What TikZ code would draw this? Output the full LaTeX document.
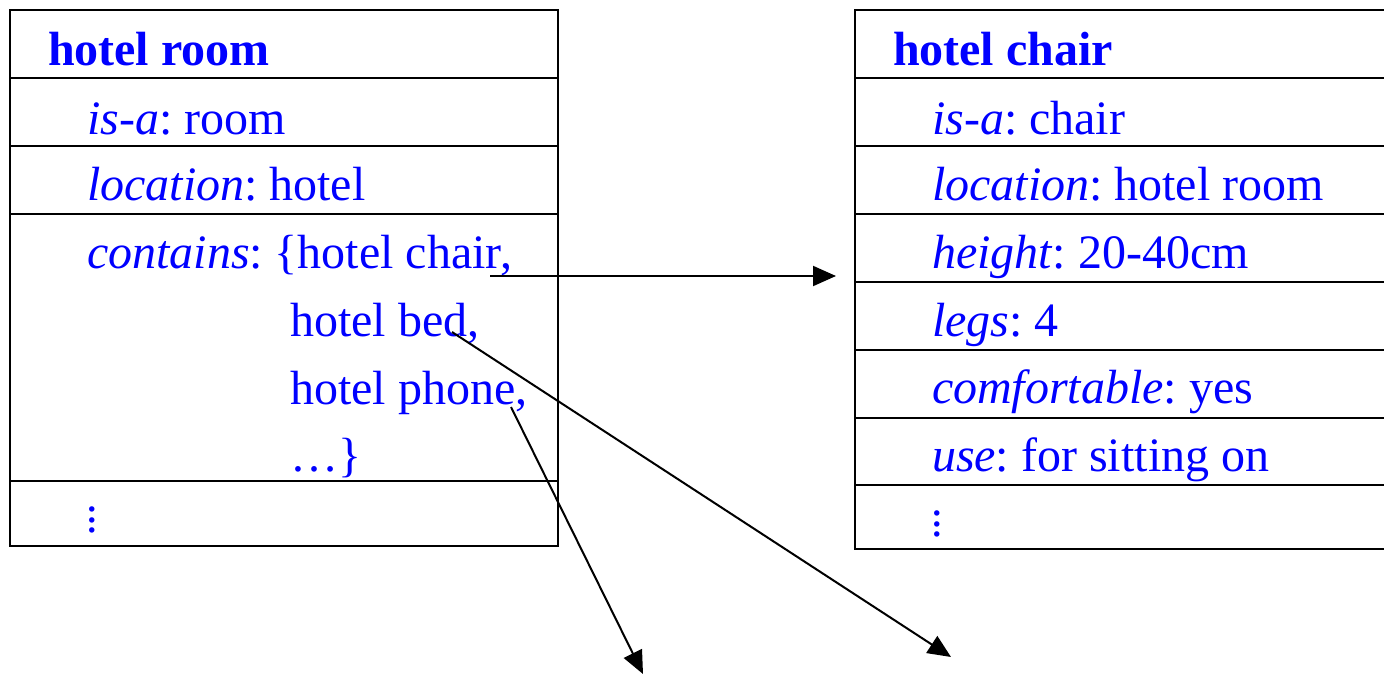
\documentclass[tikz,border=0pt]{standalone}
\usepackage{fontspec}
\setmainfont{Liberation Serif}
\usetikzlibrary{arrows.meta}
\definecolor{txtblue}{RGB}{0,0,255}
\frenchspacing
\tikzset{
  frame/.style={line width=2.2pt, black},
  txt/.style={anchor=base west, inner sep=0pt, outer sep=0pt, text=txtblue, font=\frenchspacing\fontsize{48}{56}\selectfont},
  vdot/.style={anchor=center, inner sep=0pt, align=center, text=txtblue, font=\fontsize{46}{10.5}\selectfont},
  link/.style={line width=2pt, black, -{Triangle[length=23pt,width=20pt]}}
}
\begin{document}
\begin{tikzpicture}[x=1pt,y=-1pt]
\useasboundingbox (0,0) rectangle (1384,675);
\clip (0,0) rectangle (1384,675);
% left frame
\draw[frame] (10,10) rectangle (558,546);
\foreach \yy in {78,146,214,481} \draw[frame] (10,\yy) -- (558,\yy);
% right frame
\draw[frame] (855,10) rectangle (1400,549);
\foreach \yy in {78,146,214,282,350,418,485} \draw[frame] (855,\yy) -- (1400,\yy);
% left texts
\node[txt] (roomtitle) at (48,65) {\textbf{hotel room}};
\node[txt] (roomisa) at (87,134) {\textit{is-a}: room};
\node[txt] (roomloc) at (87,200) {\textit{location}: hotel};
\node[txt] (roomcont) at (87,268) {\textit{contains}: \{hotel chair,};
\node[txt] (roombed) at (290,336) {hotel bed,};
\node[txt] (roomphone) at (290,404) {hotel phone,};
\node[txt] (roomdots) at (290,471) {…\}};
\node[vdot] (roommore) at (92,520) {.\\.\\.};
% right texts
\node[txt] (chairtitle) at (893,65) {\textbf{hotel chair}};
\node[txt] (chairisa) at (932,134) {\textit{is-a}: chair};
\node[txt] (chairloc) at (932,200) {\textit{location}: hotel room};
\node[txt] (chairheight) at (932,268) {\textit{height}: 20-40cm};
\node[txt] (chairlegs) at (932,336) {\textit{legs}: 4};
\node[txt] (chaircomf) at (932,403) {\textit{comfortable}: yes};
\node[txt] (chairuse) at (932,471) {\textit{use}: for sitting on};
\node[vdot] (chairmore) at (937,524) {.\\.\\.};
% connector ends
\coordinate (chairsrc) at (490,276);
\coordinate (chairdst) at (836,276);
\coordinate (bedsrc) at (452,332);
\coordinate (beddst) at (951,657);
\coordinate (phonesrc) at (511,407);
\coordinate (phonedst) at (643,674);
\draw[link] (chairsrc) -- (chairdst);
\draw[link] (bedsrc) -- (beddst);
\draw[link] (phonesrc) -- (phonedst);
\end{tikzpicture}
\end{document}
